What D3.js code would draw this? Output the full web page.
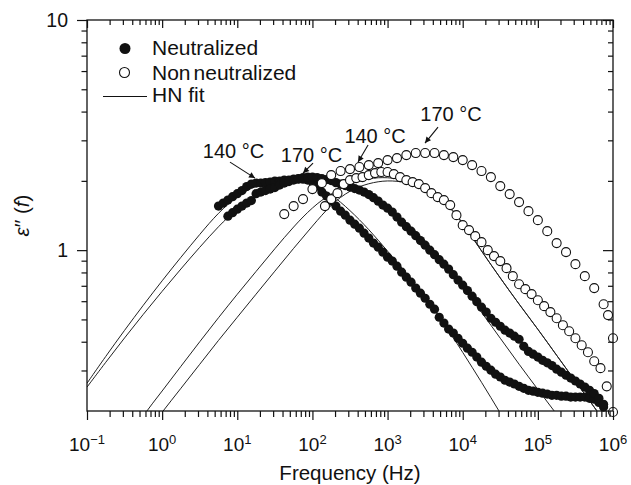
<!DOCTYPE html>
<html>
<head>
<meta charset="utf-8">
<script src="https://cdn.jsdelivr.net/npm/d3@7"></script>
<style>
  body { margin: 0; background: #fff; }
  svg { display: block; }
  text { font-family: "Liberation Sans", Arial, Helvetica, sans-serif; fill: #111; }
</style>
</head>
<body>
<svg id="chart" width="631" height="485"></svg>
<script>
// Frequency sweep, 16 points per decade (Hz), 5.6 Hz to 750 kHz
const sweep16Hz = [5.623, 6.494, 7.499, 8.660, 10, 11.55, 13.34, 15.40, 17.78, 20.54, 23.71, 27.38,
  31.62, 36.52, 42.17, 48.70, 56.23, 64.94, 74.99, 86.60, 100, 115.5, 133.4, 154.0,
  177.8, 205.4, 237.1, 273.8, 316.2, 365.2, 421.7, 487.0, 562.3, 649.4, 749.9, 866.0,
  1000, 1155, 1334, 1540, 1778, 2054, 2371, 2738, 3162, 3652, 4217, 4870,
  5623, 6494, 7499, 8660, 1.0e4, 1.155e4, 1.334e4, 1.540e4, 1.778e4, 2.054e4, 2.371e4, 2.738e4,
  3.162e4, 3.652e4, 4.217e4, 4.870e4, 5.623e4, 6.494e4, 7.499e4, 8.660e4, 1.0e5, 1.155e5, 1.334e5, 1.540e5,
  1.778e5, 2.054e5, 2.371e5, 2.738e5, 3.162e5, 3.652e5, 4.217e5, 4.870e5, 5.623e5, 6.494e5, 7.499e5];

// Frequency sweep, 12 points per decade (Hz), 147 Hz to 1 MHz
const sweep12Hz = [146.8, 177.8, 215.4, 261.0, 316.2, 383.1, 464.2, 562.3, 681.3, 825.4, 1000, 1212,
  1468, 1778, 2154, 2610, 3162, 3831, 4642, 5623, 6813, 8254, 1.0e4, 1.212e4,
  1.468e4, 1.778e4, 2.154e4, 2.610e4, 3.162e4, 3.831e4, 4.642e4, 5.623e4, 6.813e4, 8.254e4, 1.0e5, 1.212e5,
  1.468e5, 1.778e5, 2.154e5, 2.610e5, 3.162e5, 3.831e5, 4.642e5, 5.623e5, 6.813e5, 8.254e5, 1.0e6];

// Frequency sweep, 8 points per decade (Hz), 42 Hz to 1 MHz
const sweep8Hz = [42.17, 56.23, 74.99, 100, 133.4, 177.8, 237.1, 316.2, 421.7, 562.3, 749.9, 1000,
  1334, 1778, 2371, 3162, 4217, 5623, 7499, 1.0e4, 1.334e4, 1.778e4, 2.371e4, 3.162e4,
  4.217e4, 5.623e4, 7.499e4, 1.0e5, 1.334e5, 1.778e5, 2.371e5, 3.162e5, 4.217e5, 5.623e5, 7.499e5, 8.59e5, 1.0e6];

// ε'' of the neutralized sample at 140 °C (on sweep16Hz from index 0)
const neutral140 = [1.554, 1.601, 1.650, 1.708, 1.760, 1.814, 1.889, 1.936, 1.956, 1.956, 1.965, 1.975,
  1.995, 1.995, 2.015, 2.015, 2.035, 2.035, 2.035, 2.015, 1.975, 1.898, 1.787, 1.717,
  1.633, 1.554, 1.477, 1.419, 1.350, 1.297, 1.246, 1.185, 1.128, 1.073, 1.030, 0.980,
  0.932, 0.896, 0.852, 0.802, 0.763, 0.726, 0.684, 0.650, 0.618, 0.582, 0.554, 0.511,
  0.482, 0.454, 0.436, 0.414, 0.394, 0.375, 0.360, 0.343, 0.326, 0.313, 0.301, 0.289,
  0.281, 0.272, 0.267, 0.262, 0.256, 0.251, 0.246, 0.244, 0.241, 0.239, 0.237, 0.234,
  0.234, 0.232, 0.232, 0.230, 0.230, 0.230, 0.230, 0.227, 0.225, 0.218, 0.208];

// ε'' of the neutralized sample at 170 °C (on sweep16Hz from index 2)
const neutral170 = [1.405, 1.455, 1.507, 1.554, 1.601, 1.642, 1.760, 1.787, 1.814, 1.842, 1.870, 1.917,
  1.956, 1.985, 2.015, 2.046, 2.067, 2.077, 2.077, 2.067, 2.046, 2.025, 2.005, 1.965,
  1.936, 1.908, 1.879, 1.851, 1.823, 1.787, 1.743, 1.691, 1.633, 1.569, 1.522, 1.463,
  1.392, 1.323, 1.265, 1.209, 1.156, 1.100, 1.051, 1.000, 0.956, 0.909, 0.869, 0.827,
  0.782, 0.741, 0.704, 0.667, 0.631, 0.597, 0.565, 0.538, 0.506, 0.486, 0.467, 0.449,
  0.436, 0.423, 0.410, 0.382, 0.363, 0.353, 0.343, 0.332, 0.324, 0.315, 0.304, 0.295,
  0.286, 0.278, 0.270, 0.262, 0.254, 0.246, 0.238, 0.227, 0.214];

// ε'' of the nonneutralized sample at 140 °C (on sweep12Hz)
const nonneutral140 = [1.554, 1.666, 1.769, 1.936, 2.015, 2.056, 2.077, 2.119, 2.162, 2.184, 2.184, 2.140,
  2.077, 2.015, 1.975, 1.936, 1.860, 1.769, 1.700, 1.650, 1.569, 1.419, 1.284, 1.222,
  1.150, 1.083, 1.000, 0.942, 0.896, 0.835, 0.771, 0.711, 0.677, 0.644, 0.606, 0.571,
  0.538, 0.506, 0.472, 0.444, 0.414, 0.386, 0.360, 0.329, 0.307, 0.256, 0.198];

// ε'' of the nonneutralized sample at 170 °C (on sweep8Hz)
const nonneutral170 = [1.434, 1.554, 1.666, 1.842, 1.956, 2.119, 2.206, 2.250, 2.296, 2.342, 2.389, 2.462,
  2.512, 2.588, 2.641, 2.641, 2.641, 2.588, 2.537, 2.462, 2.342, 2.206, 2.077, 1.898,
  1.752, 1.617, 1.477, 1.350, 1.209, 1.073, 0.980, 0.869, 0.771, 0.684, 0.582, 0.522, 0.414];

// Havriliak–Negami fit curves, sampled every quarter decade
const fitHz = [0.1, 0.1778, 0.3162, 0.5623, 1, 1.778, 3.162, 5.623, 10, 17.78, 31.62, 56.23, 100,
  177.8, 316.2, 562.3, 1000, 1778, 3162, 5623, 1e4, 17783, 31623, 56234, 1e5, 177828, 316228, 562341, 1e6];
const hnNeutral140 = [0.264, 0.346, 0.449, 0.577, 0.737, 0.932, 1.171, 1.459, 1.717, 1.917, 2.015, 2.035,
  1.956, 1.752, 1.492, 1.234, 0.990, 0.794, 0.625, 0.482, 0.360, 0.267, 0.196, 0.143, null, null, null, null, null];
const hnNeutral170 = [0.254, 0.326, 0.416, 0.527, 0.663, 0.829, 1.030, 1.269, 1.522, 1.734, 1.879, 1.975,
  2.015, 1.975, 1.879, 1.734, 1.538, 1.323, 1.105, 0.887, 0.690, 0.538, 0.414, 0.319, 0.248, 0.194, 0.150, 0.117, null];
const hnNonneutral140 = [null, null, 0.145, 0.192, 0.244, 0.313, 0.400, 0.509, 0.644, 0.808, 1.015, 1.266,
  1.538, 1.769, 1.936, 2.056, 2.077, 2.015, 1.879, 1.666, 1.323, 0.990, 0.756, 0.582, 0.454, 0.349, 0.269, 0.208, 0.160];
const hnNonneutral170 = [null, null, 0.118, 0.154, 0.198, 0.251, 0.319, 0.406, 0.511, 0.644, 0.810, 1.020,
  1.272, 1.585, 1.823, 1.956, 2.015, 1.975, 1.860, 1.650, 1.310, 0.990, 0.756, 0.582, 0.454, 0.349, 0.269, 0.208, 0.160];

// Axis ticks and labels
const xDecades = [0.1, 1, 10, 100, 1e3, 1e4, 1e5, 1e6];
const xExponents = ["\u22121", "0", "1", "2", "3", "4", "5", "6"];
const yMajor = [1, 10];
const yLabels = ["1", "10"];

const legendItems = ["Neutralized", "Nonneutralized", "HN fit"];

// Temperature call-outs: arrow tip at (Hz, ε''), tail and label offsets in px
const callouts = [
  { text: "140 \u00B0C", tip: [17.2, 2.056], tail: [-25, -16], label: [-21.5, -20] },
  { text: "170 \u00B0C", tip: [75, 2.16], tail: [10, -10], label: [8.5, -11] },
  { text: "140 \u00B0C", tip: [405, 2.414], tail: [10, -17], label: [17, -19] },
  { text: "170 \u00B0C", tip: [3150, 2.919], tail: [13, -16], label: [26, -22] }
];

// ---------------------------------------------------------------
const svg = d3.select("#chart");
const X0 = 87, X1 = 613, Y0 = 411, Y1 = 20;
const x = d3.scaleLog().domain([0.1, 1e6]).range([X0, X1]);
const y = d3.scaleLog().domain([0.2, 10]).range([Y0, Y1]);

const defs = svg.append("defs");
defs.append("clipPath").attr("id", "plotArea")
  .append("rect").attr("x", X0).attr("y", Y1).attr("width", X1 - X0).attr("height", Y0 - Y1);
defs.append("marker").attr("id", "arrowHead")
  .attr("viewBox", "0 0 10 10").attr("refX", 10).attr("refY", 5)
  .attr("markerWidth", 7).attr("markerHeight", 6).attr("markerUnits", "userSpaceOnUse")
  .attr("orient", "auto")
  .append("path").attr("d", "M0,0 L10,5 L0,10 Z").attr("fill", "#111");

const pairs = (freqs, vals, offset) => vals.map((v, i) => [freqs[i + offset], v]);

// Fit curves
const fitLine = d3.line()
  .defined(d => d[1] != null)
  .x(d => x(d[0])).y(d => y(d[1]))
  .curve(d3.curveBasis);
const fitGroup = svg.append("g").attr("clip-path", "url(#plotArea)");
[hnNeutral140, hnNeutral170, hnNonneutral140, hnNonneutral170].forEach(vals => {
  fitGroup.append("path")
    .attr("d", fitLine(pairs(fitHz, vals, 0)))
    .attr("fill", "none").attr("stroke", "#222").attr("stroke-width", 1);
});

// Data points
const filledSeries = [pairs(sweep16Hz, neutral140, 0), pairs(sweep16Hz, neutral170, 2)];
const openSeries = [pairs(sweep12Hz, nonneutral140, 0), pairs(sweep8Hz, nonneutral170, 0)];

filledSeries.forEach(data => {
  svg.append("g").selectAll("circle").data(data).join("circle")
    .attr("cx", d => x(d[0])).attr("cy", d => y(d[1])).attr("r", 4.6)
    .attr("fill", "#111");
});
openSeries.forEach(data => {
  svg.append("g").selectAll("circle").data(data).join("circle")
    .attr("cx", d => x(d[0])).attr("cy", d => y(d[1])).attr("r", 4.5)
    .attr("fill", "#fff").attr("stroke", "#111").attr("stroke-width", 1.1);
});

// Axes
const xMinor = [];
for (let e = -1; e < 6; e++) for (let m = 2; m <= 9; m++) xMinor.push(m * Math.pow(10, e));
const yMinor = [0.3, 0.4, 0.5, 0.6, 0.7, 0.8, 0.9, 2, 3, 4, 5, 6, 7, 8, 9];

function drawAxis(axis, transform) {
  const g = svg.append("g").attr("transform", transform).call(axis);
  g.select(".domain").remove();
  g.selectAll(".tick line").attr("stroke", "#111").attr("stroke-width", 1.2);
  g.selectAll(".tick text").remove();
  return g;
}
drawAxis(d3.axisBottom(x).tickValues(xDecades).tickSize(9), `translate(0,${Y0})`);
drawAxis(d3.axisBottom(x).tickValues(xMinor).tickSize(6), `translate(0,${Y0})`);
drawAxis(d3.axisTop(x).tickValues(xDecades).tickSize(-8), `translate(0,${Y1})`);
drawAxis(d3.axisTop(x).tickValues(xMinor).tickSize(-5), `translate(0,${Y1})`);
drawAxis(d3.axisLeft(y).tickValues(yMajor).tickSize(10), `translate(${X0},0)`);
drawAxis(d3.axisLeft(y).tickValues(yMinor).tickSize(5.5), `translate(${X0},0)`);
drawAxis(d3.axisRight(y).tickValues(yMajor).tickSize(-10), `translate(${X1},0)`);
drawAxis(d3.axisRight(y).tickValues(yMinor).tickSize(-5), `translate(${X1},0)`);

svg.append("rect").attr("x", X0).attr("y", Y1).attr("width", X1 - X0).attr("height", Y0 - Y1)
  .attr("fill", "none").attr("stroke", "#111").attr("stroke-width", 1.3);

// Tick labels
const xl = svg.append("g").selectAll("text").data(xDecades).join("text")
  .attr("x", d => x(d)).attr("y", 451).attr("text-anchor", "middle").attr("font-size", 19);
xl.append("tspan").text("10");
xl.append("tspan").attr("dy", -7).attr("font-size", 13).text((d, i) => xExponents[i]);

svg.append("g").selectAll("text").data(yMajor).join("text")
  .attr("x", X0 - 19).attr("y", d => y(d)).attr("dy", "0.36em")
  .attr("text-anchor", "end").attr("font-size", 19.5)
  .text((d, i) => yLabels[i]);

// Axis titles
svg.append("text").attr("x", (X0 + X1) / 2).attr("y", 480).attr("text-anchor", "middle")
  .attr("font-size", 20.5).text("Frequency (Hz)");
const yt = svg.append("text").attr("transform", `translate(29,${(Y0 + Y1) / 2}) rotate(-90)`)
  .attr("text-anchor", "middle").attr("font-size", 20.5);
yt.append("tspan").attr("font-style", "italic").text("\u03B5");
yt.append("tspan").text("\u2032\u2032 (");
yt.append("tspan").attr("font-style", "italic").text("f");
yt.append("tspan").text(")");

// Legend
const lg = svg.append("g").attr("font-size", 21);
lg.append("circle").attr("cx", 125).attr("cy", 48.5).attr("r", 5.5).attr("fill", "#111");
lg.append("text").attr("x", 152).attr("y", 55).text(legendItems[0]);
lg.append("circle").attr("cx", 124.5).attr("cy", 72.5).attr("r", 5).attr("fill", "#fff")
  .attr("stroke", "#111").attr("stroke-width", 1.1);
const nn = lg.append("text").attr("x", 152).attr("y", 79.5);
nn.append("tspan").text(legendItems[1].slice(0, 3));
nn.append("tspan").attr("dx", 3).text(legendItems[1].slice(3));
lg.append("line").attr("x1", 103).attr("x2", 147).attr("y1", 96.5).attr("y2", 96.5)
  .attr("stroke", "#111").attr("stroke-width", 1.2);
lg.append("text").attr("x", 152).attr("y", 102).text(legendItems[2]);

// Call-outs
const co = svg.append("g");
callouts.forEach(c => {
  const tx = x(c.tip[0]), ty = y(c.tip[1]);
  co.append("line")
    .attr("x1", tx + c.tail[0]).attr("y1", ty + c.tail[1]).attr("x2", tx).attr("y2", ty)
    .attr("stroke", "#111").attr("stroke-width", 1.1).attr("marker-end", "url(#arrowHead)");
  co.append("text").attr("x", tx + c.label[0]).attr("y", ty + c.label[1])
    .attr("text-anchor", "middle").attr("font-size", 20).text(c.text);
});
</script>
</body>
</html>
